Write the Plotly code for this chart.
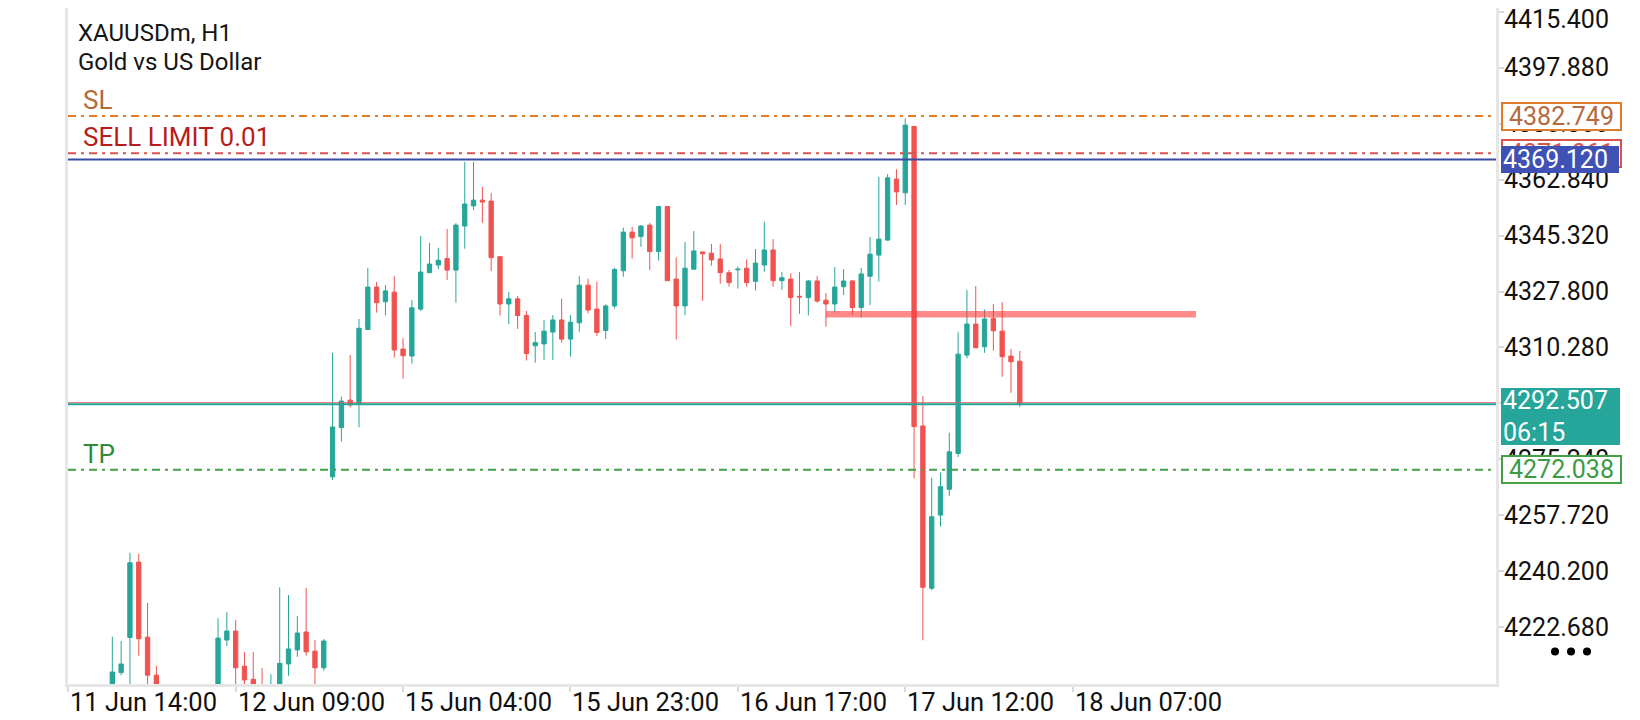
import plotly.graph_objects as go

# H1 candles, bar 0 = 11 Jun 14:00 (bars below the visible window are estimates)
opens = [4195.0, 4198.0, 4194.0, 4190.0, 4195.0, 4199.0, 4208.5, 4219.5, 4243.1, 4219.6,
         4207.7, 4199.0, 4195.0, 4192.0, 4194.0, 4197.0, 4196.0, 4200.0, 4218.7, 4221.5,
         4210.5, 4206.4, 4201.0, 4198.0, 4202.0, 4211.2, 4215.6, 4221.2, 4215.2, 4210.0,
         4269.8, 4285.2, 4293.8, 4292.5, 4315.9, 4329.2, 4324.6, 4327.6, 4309.8, 4307.6,
         4322.3, 4333.7, 4336.1, 4338.1, 4334.5, 4348.3, 4354.6, 4356.4, 4356.1, 4338.7,
         4323.9, 4325.5, 4320.3, 4310.8, 4311.4, 4315.1, 4318.9, 4312.9, 4318.0, 4329.8,
         4322.3, 4315.6, 4323.3, 4334.3, 4346.4, 4345.0, 4348.6, 4340.3, 4354.4, 4331.7,
         4323.3, 4334.8, 4340.2, 4339.8, 4338.0, 4333.7, 4334.6, 4335.1, 4331.0, 4336.1,
         4340.8, 4331.2, 4331.7, 4326.3, 4325.9, 4331.1, 4325.1, 4323.9, 4329.3, 4331.1,
         4322.8, 4332.6, 4339.2, 4343.9, 4363.0, 4358.7, 4379.5, 4285.7, 4234.9, 4257.8,
         4265.9, 4277.1, 4307.9, 4317.6, 4310.5, 4319.4, 4315.4, 4307.6, 4306.0]
highs = [4201.0, 4203.0, 4199.0, 4197.0, 4202.0, 4219.7, 4218.4, 4246.0, 4245.7, 4230.3,
         4210.6, 4203.0, 4200.0, 4197.0, 4201.0, 4202.0, 4203.0, 4225.5, 4227.4, 4225.0,
         4214.9, 4214.9, 4209.9, 4208.0, 4235.2, 4232.8, 4226.2, 4235.0, 4218.7, 4219.0,
         4308.6, 4294.9, 4307.9, 4319.2, 4335.2, 4330.8, 4329.8, 4332.6, 4313.2, 4325.1,
         4345.2, 4343.0, 4341.5, 4347.4, 4349.2, 4368.4, 4368.4, 4360.6, 4358.7, 4338.9,
         4327.6, 4326.4, 4321.7, 4315.1, 4318.9, 4320.4, 4325.5, 4320.4, 4332.6, 4331.8,
         4330.9, 4323.8, 4335.2, 4347.8, 4348.0, 4348.6, 4349.3, 4354.7, 4354.6, 4338.5,
         4343.3, 4346.7, 4340.3, 4342.7, 4342.7, 4334.5, 4335.6, 4337.9, 4341.1, 4349.7,
         4344.2, 4333.9, 4333.5, 4333.9, 4331.4, 4332.6, 4327.3, 4335.5, 4334.8, 4331.4,
         4335.2, 4344.9, 4363.7, 4364.6, 4366.1, 4382.0, 4379.6, 4295.1, 4269.5, 4271.1,
         4283.6, 4315.2, 4328.3, 4329.5, 4322.2, 4323.9, 4324.5, 4309.8, 4309.2]
lows = [4188.0, 4192.0, 4186.0, 4184.0, 4191.0, 4196.0, 4207.7, 4200.0, 4213.8, 4200.0,
        4196.0, 4192.0, 4189.0, 4186.0, 4190.0, 4193.0, 4192.0, 4197.0, 4216.8, 4200.0,
        4203.0, 4198.0, 4195.0, 4194.0, 4199.0, 4207.5, 4213.4, 4213.8, 4202.0, 4209.1,
        4268.8, 4280.8, 4291.5, 4285.3, 4315.7, 4321.2, 4320.3, 4307.1, 4300.5, 4305.2,
        4321.7, 4333.7, 4334.8, 4331.4, 4324.3, 4341.2, 4353.3, 4349.3, 4334.2, 4320.3,
        4317.6, 4316.1, 4306.2, 4305.5, 4306.4, 4306.4, 4311.8, 4307.4, 4315.2, 4321.0,
        4313.9, 4312.9, 4322.5, 4332.4, 4338.1, 4341.8, 4334.5, 4337.5, 4331.2, 4312.8,
        4320.4, 4334.7, 4324.9, 4335.9, 4330.2, 4329.3, 4328.7, 4329.3, 4328.1, 4334.0,
        4329.3, 4328.3, 4317.0, 4320.8, 4320.3, 4324.3, 4316.8, 4321.2, 4326.7, 4320.4,
        4319.7, 4323.6, 4330.9, 4343.7, 4354.9, 4354.9, 4269.3, 4218.6, 4234.3, 4254.2,
        4263.8, 4276.0, 4306.9, 4310.2, 4308.6, 4309.3, 4301.1, 4296.1, 4291.7]
closes = [4198.0, 4194.0, 4190.0, 4195.0, 4199.0, 4208.7, 4211.2, 4242.9, 4219.1, 4207.7,
          4199.0, 4195.0, 4192.0, 4194.0, 4197.0, 4196.0, 4200.0, 4219.3, 4221.5, 4210.0,
          4206.2, 4201.0, 4198.0, 4202.0, 4211.4, 4215.9, 4220.9, 4215.0, 4210.0, 4218.4,
          4285.4, 4293.5, 4292.3, 4316.3, 4329.2, 4324.3, 4328.0, 4309.5, 4307.7, 4322.7,
          4333.9, 4336.4, 4337.6, 4334.5, 4348.6, 4355.2, 4356.4, 4355.8, 4338.4, 4323.9,
          4325.5, 4320.3, 4308.4, 4311.8, 4315.4, 4318.9, 4312.9, 4318.2, 4329.8, 4322.0,
          4315.0, 4323.3, 4334.7, 4346.4, 4344.6, 4348.3, 4340.3, 4354.4, 4331.2, 4323.3,
          4335.1, 4340.5, 4339.6, 4337.7, 4333.7, 4330.6, 4334.8, 4330.6, 4336.7, 4340.8,
          4331.2, 4332.1, 4325.9, 4326.1, 4331.1, 4324.8, 4323.9, 4329.2, 4331.1, 4322.8,
          4333.3, 4339.5, 4344.2, 4363.4, 4359.0, 4379.9, 4285.5, 4235.2, 4257.3, 4266.7,
          4277.6, 4308.2, 4317.6, 4310.2, 4319.2, 4315.5, 4307.4, 4305.8, 4292.507]
bars = list(range(len(opens)))

time_tick_bars = [0, 19, 38, 57, 76, 95, 114]
time_tick_text = ["11 Jun 14:00", "12 Jun 09:00", "15 Jun 04:00", "15 Jun 23:00",
                  "16 Jun 17:00", "17 Jun 12:00", "18 Jun 07:00"]
price_ticks = [4415.400, 4397.880, 4380.360, 4362.840, 4345.320, 4327.800,
               4310.280, 4292.760, 4275.240, 4257.720, 4240.200, 4222.680]

sl_price = 4382.749
sell_limit_price = 4371.061
hline_price = 4369.120
bid_price = 4292.507
ask_price = 4292.98
tp_price = 4272.038
bar_countdown = "06:15"

# hand drawn segment on the chart
trend_bars = [86, 128]
trend_prices = [4320.7, 4320.7]

GREEN = "#26a69a"
RED = "#ef5350"
FONT = "Roboto"

fig = go.Figure()

fig.add_trace(go.Candlestick(
    x=bars, open=opens, high=highs, low=lows, close=closes,
    increasing=dict(line=dict(color=GREEN, width=1), fillcolor=GREEN),
    decreasing=dict(line=dict(color=RED, width=1), fillcolor=RED),
    hoverinfo="skip", showlegend=False))

fig.add_trace(go.Scatter(
    x=trend_bars, y=trend_prices, mode="lines",
    line=dict(color="rgba(255,60,60,0.6)", width=6.5),
    hoverinfo="skip", showlegend=False))


def level(price, color, width, dash):
    fig.add_shape(type="line", xref="paper", x0=0, x1=1, yref="y", y0=price, y1=price,
                  line=dict(color=color, width=width, dash=dash), layer="above")


dashdot = "8px,5px,3px,5px"
level(sl_price, "#e07b28", 2, dashdot)
level(sell_limit_price, "#d9534f", 2, dashdot)
level(hline_price, "#3b4ba5", 2, "solid")
level(ask_price, "#e05a5a", 1, "solid")
level(bid_price, GREEN, 2, "solid")
level(tp_price, "#43a047", 2, dashdot)

# axis labels written as annotations so they sit exactly like the terminal's
for b, t in zip(time_tick_bars, time_tick_text):
    fig.add_annotation(xref="x", x=b, xanchor="left", yref="paper", y=0,
                       yanchor="middle", yshift=-18, text=t, showarrow=False,
                       font=dict(family=FONT, size=25.5, color="#111111"))
for p in price_ticks:
    # the top label is nudged down so it is not cut by the page edge
    fig.add_annotation(xref="paper", x=1, xanchor="left", xshift=6, yref="y", y=p,
                       yanchor="middle", yshift=-8 if p == price_ticks[0] else 0,
                       text=f"{p:.3f}", showarrow=False,
                       font=dict(family=FONT, size=25, color="#111111"))


def price_tag(price, text, fg, bg, border, w, h, yanchor="middle", yshift=0, align="center"):
    fig.add_annotation(
        xref="paper", x=1, xanchor="left", xshift=5, yref="y", y=price,
        yanchor=yanchor, yshift=yshift, text=text, showarrow=False, align=align,
        font=dict(family=FONT, size=25, color=fg), bgcolor=bg,
        bordercolor=border, borderwidth=2 if border else 0, borderpad=2,
        width=w, height=h)


price_tag(sl_price, f"{sl_price:.3f}", "#b5693c", "white", "#e07b28", 113, 21)
price_tag(sell_limit_price, f"{sell_limit_price:.3f}", "#d9534f", "white", "#d9534f", 113, 21)
price_tag(hline_price, f"{hline_price:.3f}", "white", "#3f51b5", None, 114, 23, align="left")
price_tag(bid_price, f"{bid_price:.3f}<br>{bar_countdown}", "white", GREEN, None, 115, 53,
          yanchor="top", yshift=16, align="left")
price_tag(tp_price, f"{tp_price:.3f}", "#3d9a45", "white", "#43a047", 113, 21)


def line_label(price, text, color):
    fig.add_annotation(xref="paper", x=0, xanchor="left", xshift=13, yref="y", y=price,
                       yanchor="middle", yshift=16, text=text, showarrow=False,
                       font=dict(family=FONT, size=26, color=color))


line_label(sl_price, "SL", "#b5693c")
line_label(sell_limit_price, "SELL LIMIT 0.01", "#b71c1c")
line_label(tp_price, "TP", "#2e8b3a")

for i, t in enumerate(["XAUUSDm, H1", "Gold vs US Dollar"]):
    fig.add_annotation(xref="paper", x=0, xanchor="left", xshift=8, yref="paper", y=1,
                       yanchor="middle", yshift=-25 - 29 * i, text=t, showarrow=False,
                       font=dict(family=FONT, size=24, color="#151515"))

# three dots menu
for dx in [59, 75, 91]:
    fig.add_shape(type="circle", xref="paper", xsizemode="pixel", xanchor=1,
                  x0=dx - 4, x1=dx + 4, yref="paper", ysizemode="pixel", yanchor=0.048,
                  y0=-4, y1=4, fillcolor="black", line=dict(width=0))

# the page body adds 8px on the left and top, margins are set with that in mind
fig.update_layout(
    width=1640, height=720,
    margin=dict(l=60, r=152, t=0, b=44),
    paper_bgcolor="white", plot_bgcolor="white",
    font=dict(family=FONT, size=25, color="#111111"),
    showlegend=False,
    xaxis=dict(range=[-0.03, 162.05], tickvals=time_tick_bars, showticklabels=False,
               automargin=False,
               ticks="outside", ticklen=5, tickwidth=2, tickcolor="#d8d8d8",
               showgrid=False, zeroline=False,
               showline=True, mirror=True, linecolor="#e6e6e6", linewidth=3,
               rangeslider=dict(visible=False), fixedrange=True),
    yaxis=dict(range=[4204.93, 4416.56], side="right", tickvals=price_ticks,
               showticklabels=False, automargin=False,
               ticks="outside", ticklen=5, tickwidth=2, tickcolor="#d8d8d8",
               showgrid=False, zeroline=False,
               showline=True, mirror=True, linecolor="#e6e6e6", linewidth=3,
               fixedrange=True),
)

fig.write_html("out.html")
